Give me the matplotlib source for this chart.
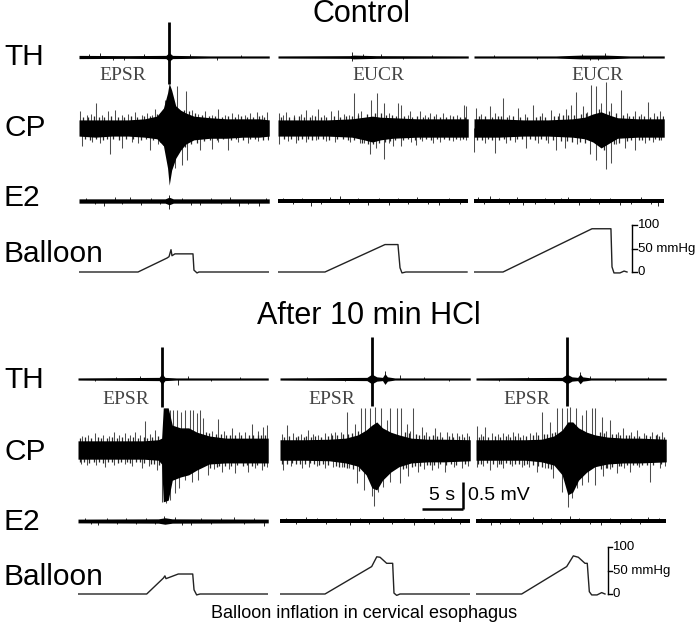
import matplotlib
matplotlib.use('Agg')
import matplotlib.pyplot as plt

# ---------------------------------------------------------------- data
# time in s, EMG amplitude in mV (envelope of dense trace + individual spikes),
# balloon pressure in mmHg
ROW_LABELS = ["TH", "CP", "E2", "Balloon"]
PANEL_TITLES = ["Control", "After 10 min HCl"]
CONTROL_REFLEX = ["EPSR", "EUCR", "EUCR"]
HCL_REFLEX = ["EPSR", "EPSR", "EPSR"]
PRESSURE_TICKS = [0, 50, 100]
PRESSURE_TICK_LABELS = ["0", "50 mmHg", "100"]
CAPTION = "Balloon inflation in cervical esophagus"
TIME_BAR_S = 5
VOLT_BAR_MV = 0.5

# ---- Control: TH
c_th_t = [[0, 6, 10.6, 11.0, 11.4, 16, 23.2], [0, 8.8, 9.2, 12, 23.2], [0, 10, 13, 16, 19, 23.2]]
c_th_up = [[0.03, 0.025, 0.03, 0.08, 0.03, 0.02, 0.02], [0.02, 0.025, 0.035, 0.025, 0.02], [0.02, 0.02, 0.035, 0.035, 0.02, 0.02]]
c_th_lo = [[0.03, 0.025, 0.03, 0.08, 0.03, 0.02, 0.02], [0.02, 0.025, 0.035, 0.025, 0.02], [0.02, 0.02, 0.035, 0.035, 0.02, 0.02]]
c_th_spk_t = [[10.98, 10.98, 1.2, 2.5, 4.1, 5.5, 7.9, 13.5, 16.8, 19.7],
              [9.0, 9.0, 10.4, 12.5, 15.3, 18.8],
              [16.0, 15.1, 13.2, 14.2, 2.4, 7.7, 20.6]]
c_th_spk_a = [[0.65, -0.50, 0.06, 0.07, -0.05, -0.06, 0.05, 0.06, -0.05, 0.04],
              [0.10, -0.07, 0.05, 0.05, -0.04, 0.04],
              [0.08, -0.06, 0.06, -0.05, 0.04, -0.04, 0.04]]

# ---- Control: CP (core envelope, large spikes, fringe spikes)
c_cp_t = [
    [0, 2, 4, 6, 8, 9.5, 10.3, 10.8, 11.0, 11.3, 11.8, 12.4, 13, 14, 16, 18, 20, 22, 23.2],
    [0, 3, 6, 9, 10.5, 11.5, 12.5, 14, 17, 20, 23.2],
    [0, 3, 6, 9, 12, 13.5, 14.5, 15.5, 16.5, 17.5, 20, 23.2],
]
c_cp_up = [
    [0.15, 0.15, 0.15, 0.15, 0.17, 0.22, 0.37, 0.65, 0.83, 0.70, 0.41, 0.33, 0.28, 0.22, 0.19, 0.17, 0.17, 0.17, 0.15],
    [0.15, 0.15, 0.15, 0.17, 0.20, 0.22, 0.20, 0.19, 0.17, 0.17, 0.17],
    [0.17, 0.17, 0.15, 0.15, 0.17, 0.20, 0.26, 0.30, 0.24, 0.19, 0.17, 0.17],
]
c_cp_lo = [
    [0.15, 0.17, 0.15, 0.15, 0.17, 0.20, 0.33, 0.74, 1.06, 0.78, 0.56, 0.41, 0.30, 0.22, 0.19, 0.19, 0.17, 0.17, 0.15],
    [0.15, 0.15, 0.15, 0.17, 0.22, 0.26, 0.22, 0.19, 0.17, 0.17, 0.17],
    [0.17, 0.17, 0.15, 0.15, 0.17, 0.20, 0.26, 0.37, 0.28, 0.19, 0.17, 0.17],
]
c_cp_spk_t = [
    [0.12, 2.03, 3.57, 4.39, 6.83, 9.27, 10.49, 11.99, 13.05, 13.74, 15.37, 16.99, 18.6, 21.67, 22.89,
     0.94, 1.46, 2.76, 5.2, 6.01, 7.64, 8.25, 8.94, 9.88, 14.55, 16.18, 17.8, 19.43, 20.24, 20.85, 22.28,
     0.33, 3.78, 5.2, 8.66, 10.28, 11.71, 12.52, 13.13, 14.76, 16.18, 18.2, 23.09,
     1.54, 2.56, 6.42, 7.24, 9.67, 16.99, 19.43, 20.65, 21.87],
    [0.12, 1.02, 3.45, 4.88, 6.5, 7.32, 9.23, 10.16, 11.3, 12.07, 12.93, 14.63, 15.04, 16.06, 17.28, 18.5, 20.12, 22.64, 22.89,
     0.6, 2.0, 2.8, 4.2, 5.6, 8.0, 8.6, 9.7, 13.5, 15.8, 17.9, 19.3, 21.0, 21.8,
     0.12, 2.23, 4.67, 8.74, 9.96, 11.18, 11.99, 12.93, 14.02, 15.04, 16.87, 18.9, 22.16,
     1.2, 3.4, 5.9, 7.0, 10.5, 13.5, 16.2, 17.6, 19.8, 21.3, 22.9],
    [0.28, 1.91, 3.54, 5.37, 7.2, 9.43, 11.26, 11.79, 12.48, 13.29, 14.31, 14.92, 15.53, 16.14, 16.75, 17.89, 19.6, 21.22, 22.64,
     0.9, 2.6, 4.3, 6.2, 8.3, 10.4, 13.8, 18.6, 20.4, 22.0,
     0.05, 2.52, 6.38, 10.04, 11.06, 14.11, 14.92, 16.14, 16.75, 18.38, 19.6, 22.85,
     1.3, 3.9, 5.0, 7.8, 9.0, 12.6, 15.5, 17.3, 20.8, 21.8],
]
c_cp_spk_a = [
    [0.31, 0.46, 0.31, 0.33, 0.30, 0.35, 0.52, 0.78, 0.68, 0.33, 0.31, 0.35, 0.28, 0.30, 0.30,
     0.24, 0.26, 0.25, 0.24, 0.26, 0.24, 0.27, 0.25, 0.28, 0.26, 0.25, 0.24, 0.26, 0.25, 0.27, 0.24,
     -0.34, -0.49, -0.37, -0.41, -0.31, -0.74, -0.68, -0.59, -0.40, -0.39, -0.40, -0.22,
     -0.26, -0.28, -0.25, -0.27, -0.29, -0.26, -0.25, -0.27, -0.24],
    [0.28, 0.30, 0.34, 0.35, 0.31, 0.34, 0.65, 0.31, 0.51, 0.65, 0.46, 0.46, 0.43, 0.31, 0.31, 0.28, 0.28, 0.43, 0.40,
     0.24, 0.25, 0.26, 0.24, 0.25, 0.26, 0.24, 0.27, 0.28, 0.25, 0.24, 0.26, 0.25, 0.24,
     -0.29, -0.28, -0.22, -0.25, -0.28, -0.48, -0.37, -0.57, -0.34, -0.33, -0.31, -0.28, -0.22,
     -0.24, -0.25, -0.24, -0.26, -0.27, -0.28, -0.25, -0.24, -0.25, -0.24, -0.23],
    [0.37, 0.41, 0.56, 0.37, 0.43, 0.34, 0.35, 0.43, 0.66, 0.40, 0.80, 0.78, 0.46, 0.85, 0.46, 0.71, 0.31, 0.48, 0.31,
     0.26, 0.27, 0.25, 0.26, 0.27, 0.28, 0.30, 0.28, 0.26, 0.27,
     -0.45, -0.46, -0.37, -0.41, -0.37, -0.49, -0.59, -0.76, -0.65, -0.37, -0.40, -0.22,
     -0.27, -0.28, -0.26, -0.27, -0.28, -0.30, -0.33, -0.29, -0.27, -0.26],
]
c_cp_fr_t = [
    [0.5, 1.1, 1.8, 2.4, 3.1, 3.9, 4.7, 5.5, 6.4, 7.1, 7.9, 8.6, 9.5, 12.8, 13.4, 14.2, 15.0, 15.8, 16.6,
     17.4, 18.2, 19.0, 19.8, 20.5, 21.2, 22.0, 22.6,
     0.7, 1.3, 2.1, 2.9, 3.4, 4.1, 4.9, 5.7, 6.6, 7.5, 8.2, 9.0, 9.9, 12.9, 13.6, 14.4, 15.2, 16.0, 16.8,
     17.6, 18.5, 19.2, 20.0, 20.9, 21.5, 22.4, 23.0],
    [0.4, 1.3, 1.9, 2.6, 3.2, 3.9, 4.5, 5.2, 5.9, 6.8, 7.6, 8.3, 9.0, 9.8, 10.8, 11.8, 12.5, 13.2, 13.9,
     14.4, 15.4, 16.4, 17.0, 17.7, 18.3, 19.0, 19.7, 20.5, 21.3, 22.2, 22.8,
     0.7, 1.6, 2.4, 2.9, 3.6, 4.2, 4.9, 5.5, 6.2, 7.2, 7.9, 8.5, 9.3, 10.2, 11.0, 11.6, 12.3, 13.0, 13.7,
     14.3, 15.3, 15.9, 16.7, 17.3, 18.1, 18.6, 19.4, 20.2, 20.8, 21.7, 22.5],
    [0.6, 1.4, 2.2, 2.9, 3.3, 4.0, 4.7, 5.6, 6.5, 7.5, 8.0, 8.7, 9.7, 10.2, 10.9, 11.5, 12.2, 13.0, 13.6,
     15.2, 16.5, 17.3, 18.2, 18.9, 19.4, 20.1, 20.7, 21.5, 22.3, 23.0,
     0.4, 1.0, 1.7, 2.2, 3.0, 3.6, 4.4, 5.3, 5.8, 6.8, 7.4, 8.2, 8.8, 9.6, 10.6, 11.4, 12.0, 12.9, 13.5,
     15.8, 17.1, 17.7, 18.7, 19.2, 20.1, 20.5, 21.4, 22.1, 22.6],
]
c_cp_fr_a = [
    [0.21, 0.20, 0.22, 0.21, 0.20, 0.22, 0.21, 0.20, 0.22, 0.21, 0.23, 0.22, 0.26, 0.34, 0.32, 0.27, 0.24, 0.22, 0.22,
     0.21, 0.22, 0.21, 0.22, 0.21, 0.20, 0.22, 0.21,
     -0.21, -0.22, -0.20, -0.22, -0.21, -0.20, -0.22, -0.21, -0.20, -0.22, -0.21, -0.23, -0.26, -0.36, -0.30, -0.27, -0.24, -0.23, -0.22,
     -0.21, -0.22, -0.21, -0.22, -0.21, -0.20, -0.22, -0.21],
    [0.20, 0.21, 0.20, 0.22, 0.21, 0.20, 0.22, 0.21, 0.20, 0.22, 0.21, 0.22, 0.23, 0.25, 0.26, 0.28, 0.27, 0.25, 0.24,
     0.23, 0.22, 0.21, 0.22, 0.21, 0.20, 0.22, 0.21, 0.20, 0.22, 0.21, 0.20,
     -0.20, -0.21, -0.22, -0.20, -0.21, -0.22, -0.20, -0.21, -0.22, -0.20, -0.21, -0.22, -0.23, -0.27, -0.29, -0.30, -0.28, -0.26, -0.24,
     -0.23, -0.22, -0.21, -0.22, -0.20, -0.21, -0.22, -0.20, -0.21, -0.22, -0.20, -0.21],
    [0.22, 0.23, 0.21, 0.22, 0.23, 0.21, 0.22, 0.21, 0.20, 0.21, 0.22, 0.21, 0.22, 0.23, 0.24, 0.24, 0.25, 0.26, 0.28,
     0.36, 0.32, 0.27, 0.25, 0.23, 0.22, 0.23, 0.22, 0.21, 0.22, 0.22,
     -0.22, -0.23, -0.21, -0.22, -0.23, -0.21, -0.22, -0.21, -0.20, -0.21, -0.22, -0.21, -0.22, -0.23, -0.24, -0.24, -0.25, -0.26, -0.28,
     -0.40, -0.30, -0.27, -0.24, -0.23, -0.22, -0.23, -0.22, -0.21, -0.22],
]

# ---- Control: E2
c_e2_t = [[0, 10.5, 11, 11.5, 23.2], [0, 23.2], [0, 23.2]]
c_e2_up = [[0.04, 0.04, 0.07, 0.04, 0.04], [0.035, 0.035], [0.04, 0.04]]
c_e2_lo = [[0.04, 0.04, 0.07, 0.04, 0.04], [0.035, 0.035], [0.04, 0.04]]
c_e2_spk_t = [[3.0, 6.2, 11.0, 11.0, 14.8, 19.5, 21.9, 0.8, 1.9, 4.4, 5.3, 7.6, 8.8, 9.9, 12.6, 13.7, 16.1, 17.3, 18.4, 20.6, 22.8],
              [4.0, 7.5, 11.0, 17.0, 19.6, 0.6, 1.8, 2.9, 5.2, 6.4, 8.7, 9.8, 12.3, 13.5, 14.6, 15.8, 18.3, 20.9, 22.2],
              [0.5, 2.0, 6.0, 11.5, 17.8, 22.5, 1.2, 3.1, 4.3, 5.2, 7.4, 8.6, 9.7, 10.6, 12.8, 14.1, 15.3, 16.6, 19.1, 20.4, 21.6]]
c_e2_spk_a = [[-0.09, 0.08, 0.12, -0.15, -0.08, -0.09, -0.10, 0.06, -0.06, 0.07, -0.06, -0.07, 0.06, -0.06, 0.06, -0.07, 0.06, -0.06, 0.07, -0.06, 0.06],
              [-0.09, 0.09, -0.07, 0.07, -0.08, 0.06, -0.06, 0.06, -0.06, 0.07, -0.06, 0.06, 0.06, -0.07, 0.06, -0.06, -0.06, 0.06, -0.06],
              [0.08, 0.09, -0.08, 0.07, -0.08, -0.09, -0.06, 0.06, -0.06, 0.07, -0.06, 0.06, -0.06, 0.06, -0.07, 0.06, -0.06, 0.06, -0.06, 0.07, -0.06]]

# ---- Control: balloon pressure
c_bal_t = [
    [0, 7.2, 10.73, 10.98, 11.22, 11.34, 11.7, 13.9, 14.02, 14.39, 14.63, 23.2],
    [0, 5.73, 13.05, 14.63, 14.88, 15.12, 15.6, 23.05],
    [0, 3.54, 14.39, 16.7, 16.83, 17.07, 17.8, 18.3, 18.66],
]
c_bal_p = [
    [0, 0, 30, 33, 48, 35, 39, 39, 4, -2, 0, 0],
    [0, 0, 59, 59, 9, -2, 0, 0],
    [0, 0, 93, 93, 11, -2, -2, 2, 0],
]

# ---- After HCl: TH
h_th_t = [[0, 9.9, 10.24, 10.6, 12, 23.2],
          [0, 10.6, 11.2, 11.8, 12.5, 12.8, 13.1, 14, 23.2],
          [0, 10.5, 11.1, 11.7, 12.4, 12.7, 13.0, 14, 23.2]]
h_th_up = [[0.02, 0.03, 0.10, 0.03, 0.02, 0.02],
           [0.02, 0.03, 0.09, 0.04, 0.03, 0.10, 0.04, 0.02, 0.02],
           [0.02, 0.03, 0.09, 0.04, 0.03, 0.09, 0.04, 0.02, 0.02]]
h_th_lo = [[0.02, 0.03, 0.10, 0.03, 0.02, 0.02],
           [0.02, 0.03, 0.09, 0.04, 0.03, 0.10, 0.04, 0.02, 0.02],
           [0.02, 0.03, 0.09, 0.04, 0.03, 0.09, 0.04, 0.02, 0.02]]
h_th_spk_t = [[10.24, 10.24, 12.2, 13.4, 7.5, 2.1, 4.6, 16.2, 19.8],
              [11.2, 11.2, 12.8, 14.6, 3.3, 7.9, 17.5, 20.6],
              [11.1, 11.1, 12.7, 13.9, 2.8, 6.4, 16.9, 21.0]]
h_th_spk_a = [[0.59, -0.52, -0.12, 0.06, 0.05, -0.04, 0.04, -0.04, 0.04],
              [0.78, -0.50, 0.15, 0.08, 0.04, -0.04, 0.04, -0.04],
              [0.78, -0.50, 0.13, 0.06, -0.04, 0.04, -0.04, 0.04]]

# ---- After HCl: CP
h_cp_t = [
    [0, 3, 6, 8, 9.8, 10.2, 10.4, 11.0, 11.5, 12.5, 13.5, 14.5, 16, 18, 20, 23.2],
    [0, 3, 6, 8, 9.5, 10.5, 11.2, 11.8, 12.5, 13.5, 14.5, 16, 18, 20, 23.2],
    [0, 3, 6, 8, 9.5, 10.5, 11.2, 11.8, 12.5, 13.5, 14.5, 16, 18, 20, 23.2],
]
h_cp_up = [
    [0.17, 0.17, 0.17, 0.17, 0.19, 0.22, 0.78, 0.78, 0.46, 0.41, 0.41, 0.33, 0.26, 0.22, 0.22, 0.22],
    [0.19, 0.19, 0.20, 0.22, 0.28, 0.37, 0.46, 0.52, 0.41, 0.33, 0.28, 0.22, 0.20, 0.20, 0.19],
    [0.19, 0.19, 0.19, 0.20, 0.26, 0.37, 0.52, 0.52, 0.41, 0.33, 0.28, 0.24, 0.22, 0.22, 0.20],
]
h_cp_lo = [
    [0.17, 0.17, 0.17, 0.17, 0.19, 0.26, 0.96, 0.93, 0.56, 0.50, 0.46, 0.37, 0.26, 0.24, 0.24, 0.24],
    [0.19, 0.19, 0.20, 0.24, 0.30, 0.46, 0.70, 0.74, 0.56, 0.41, 0.31, 0.24, 0.22, 0.22, 0.20],
    [0.19, 0.19, 0.19, 0.22, 0.28, 0.46, 0.83, 0.78, 0.56, 0.41, 0.31, 0.26, 0.24, 0.24, 0.22],
]
h_cp_spk_t = [
    [2.07, 4.43, 5.73, 6.95, 8.17, 9.39, 11.22, 11.63, 12.03, 12.56, 13.05, 13.66, 14.07, 14.47, 14.88, 15.28, 17.11, 18.74, 21.18, 22.6, 23.01,
     0.5, 1.2, 3.0, 3.8, 5.0, 6.3, 7.6, 8.8, 16.3, 17.8, 19.6, 20.4, 22.0,
     1.06, 3.29, 5.73, 7.77, 9.59, 10.28, 10.69, 11.22, 11.83, 12.32, 13.05, 13.86, 14.67, 15.9, 17.52, 19.15, 20.77, 22.4, 23.01,
     0.4, 2.2, 4.4, 6.6, 8.6, 16.6, 18.4, 21.6],
    [0.82, 3.45, 4.67, 6.71, 8.13, 9.15, 9.88, 10.37, 10.98, 11.59, 12.32, 13.01, 13.41, 14.23, 14.76, 15.45, 16.26, 17.28, 18.9, 20.33, 21.55, 22.76,
     0.3, 1.6, 2.5, 4.0, 5.5, 6.2, 7.4, 15.9, 17.8, 19.5, 21.0, 22.2,
     0.41, 2.64, 5.49, 7.52, 9.35, 10.28, 11.18, 11.5, 11.99, 12.6, 13.41, 14.63, 15.65, 16.87, 18.5, 20.12, 22.16,
     1.3, 3.5, 4.5, 6.5, 8.4, 17.6, 19.3, 21.2, 22.9],
    [0.08, 1.1, 3.33, 4.55, 5.77, 8.01, 9.02, 9.92, 10.45, 11.06, 11.46, 12.2, 12.89, 13.41, 14.11, 14.51, 15.33, 16.34, 17.97, 19.6, 21.42, 22.64,
     0.6, 2.0, 2.7, 3.9, 5.1, 6.6, 7.3, 15.8, 17.3, 18.9, 20.5, 22.1,
     0.08, 1.71, 3.33, 7.4, 9.43, 10.45, 11.26, 11.67, 12.28, 12.89, 13.7, 14.51, 15.53, 17.16, 18.78, 21.22, 22.44,
     0.9, 2.5, 4.4, 5.6, 6.5, 8.4, 16.3, 18.0, 19.9, 23.0],
]
h_cp_spk_a = [
    [0.31, 0.34, 0.31, 0.34, 0.54, 0.37, 0.75, 0.75, 0.75, 0.71, 0.75, 0.75, 0.75, 0.68, 0.74, 0.59, 0.57, 0.40, 0.49, 0.43, 0.46,
     0.26, 0.27, 0.28, 0.26, 0.27, 0.28, 0.27, 0.29, 0.36, 0.35, 0.33, 0.34, 0.35,
     -0.28, -0.31, -0.25, -0.34, -0.37, -0.96, -0.99, -0.93, -0.80, -0.71, -0.56, -0.59, -0.56, -0.46, -0.40, -0.43, -0.40, -0.37, -0.31,
     -0.26, -0.28, -0.27, -0.29, -0.30, -0.36, -0.35, -0.34],
    [0.46, 0.37, 0.28, 0.34, 0.71, 0.49, 0.77, 0.77, 0.77, 0.80, 0.77, 0.56, 0.77, 0.77, 0.77, 0.49, 0.77, 0.43, 0.40, 0.34, 0.31, 0.31,
     0.30, 0.31, 0.29, 0.30, 0.31, 0.32, 0.33, 0.36, 0.34, 0.33, 0.32, 0.30,
     -0.37, -0.34, -0.34, -0.31, -0.62, -0.74, -0.86, -1.04, -0.77, -0.68, -0.59, -0.62, -0.49, -0.40, -0.37, -0.40, -0.34,
     -0.30, -0.31, -0.30, -0.32, -0.34, -0.36, -0.33, -0.32, -0.30],
    [0.45, 0.43, 0.31, 0.34, 0.28, 0.71, 0.52, 0.77, 0.77, 0.77, 0.80, 0.77, 0.65, 0.74, 0.77, 0.77, 0.62, 0.56, 0.40, 0.37, 0.34, 0.34,
     0.30, 0.31, 0.29, 0.30, 0.31, 0.32, 0.33, 0.36, 0.34, 0.33, 0.32, 0.30,
     -0.31, -0.37, -0.34, -0.40, -0.52, -0.77, -1.05, -0.89, -0.71, -0.65, -0.59, -0.65, -0.49, -0.43, -0.40, -0.59, -0.34,
     -0.30, -0.31, -0.30, -0.32, -0.31, -0.34, -0.36, -0.33, -0.32, -0.30],
]
h_cp_fr_t = [
    [0.3, 0.9, 1.6, 2.4, 2.8, 3.5, 4.1, 4.8, 5.4, 6.1, 6.7, 7.3, 8.0, 8.4, 9.0, 9.7, 15.6, 16.0, 16.8, 17.4,
     18.1, 18.5, 19.1, 19.9, 20.8, 21.4, 21.9, 22.3, 22.8,
     0.2, 0.7, 1.4, 1.9, 2.6, 3.1, 3.7, 4.2, 4.9, 5.3, 6.0, 6.4, 7.1, 7.5, 8.1, 8.9, 9.3, 9.9, 16.1, 16.9,
     17.2, 17.9, 18.6, 19.4, 20.1, 20.6, 21.2, 21.8, 22.7],
    [0.5, 1.1, 1.9, 2.2, 2.9, 3.2, 3.8, 4.3, 5.0, 5.8, 6.4, 7.0, 7.7, 8.3, 8.8, 9.5, 15.2, 15.7, 16.6, 17.0,
     17.6, 18.2, 18.6, 19.2, 19.8, 20.6, 21.1, 21.8, 22.4, 23.0,
     0.2, 0.8, 1.5, 2.0, 2.4, 3.0, 3.7, 4.2, 4.8, 5.2, 5.9, 6.8, 7.2, 7.8, 8.2, 8.9, 9.6, 15.0, 15.4, 16.1,
     16.5, 17.1, 17.9, 18.3, 18.8, 19.5, 20.3, 20.8, 21.5, 22.5],
    [0.4, 0.8, 1.5, 2.3, 2.9, 3.6, 4.2, 4.8, 5.4, 6.1, 6.9, 7.6, 8.3, 8.7, 9.3, 9.6, 15.1, 15.6, 16.6, 17.1,
     17.6, 18.3, 18.7, 19.3, 19.9, 20.7, 21.2, 21.9, 22.3, 22.9,
     0.3, 0.6, 1.3, 2.1, 2.8, 3.0, 3.6, 4.1, 4.7, 5.3, 5.9, 6.2, 6.9, 7.6, 8.0, 8.8, 9.2, 15.2, 15.8, 16.0,
     16.6, 17.4, 17.7, 18.4, 19.2, 19.6, 20.2, 20.8, 21.6, 22.6],
]
h_cp_fr_a = [
    [0.23, 0.24, 0.22, 0.24, 0.23, 0.22, 0.24, 0.23, 0.24, 0.22, 0.24, 0.23, 0.24, 0.23, 0.25, 0.26, 0.33, 0.31, 0.30, 0.29,
     0.28, 0.27, 0.27, 0.28, 0.27, 0.28, 0.27, 0.28, 0.27,
     -0.23, -0.22, -0.24, -0.23, -0.22, -0.24, -0.23, -0.22, -0.24, -0.23, -0.22, -0.24, -0.23, -0.22, -0.24, -0.25, -0.25, -0.27, -0.33, -0.31,
     -0.30, -0.29, -0.29, -0.28, -0.29, -0.28, -0.29, -0.28, -0.29],
    [0.25, 0.26, 0.24, 0.26, 0.25, 0.26, 0.24, 0.26, 0.25, 0.26, 0.27, 0.28, 0.29, 0.30, 0.32, 0.35, 0.33, 0.31, 0.29, 0.28,
     0.27, 0.26, 0.27, 0.26, 0.25, 0.26, 0.25, 0.26, 0.25, 0.26,
     -0.25, -0.26, -0.24, -0.26, -0.25, -0.26, -0.24, -0.26, -0.27, -0.26, -0.27, -0.29, -0.31, -0.32, -0.33, -0.36, -0.38, -0.36, -0.34, -0.31,
     -0.30, -0.29, -0.28, -0.27, -0.27, -0.26, -0.27, -0.26, -0.27, -0.26],
    [0.25, 0.26, 0.24, 0.26, 0.25, 0.26, 0.24, 0.26, 0.25, 0.26, 0.27, 0.28, 0.29, 0.30, 0.32, 0.34, 0.33, 0.31, 0.30, 0.29,
     0.28, 0.27, 0.27, 0.26, 0.26, 0.27, 0.26, 0.27, 0.26, 0.25,
     -0.25, -0.26, -0.24, -0.26, -0.25, -0.26, -0.24, -0.26, -0.25, -0.26, -0.27, -0.26, -0.28, -0.30, -0.31, -0.34, -0.36, -0.36, -0.34, -0.33,
     -0.31, -0.29, -0.29, -0.28, -0.27, -0.28, -0.27, -0.28, -0.27, -0.26],
]

# ---- After HCl: E2
h_e2_t = [[0, 9.8, 10.6, 11.5, 23.2], [0, 23.2], [0, 23.2]]
h_e2_up = [[0.035, 0.04, 0.06, 0.04, 0.035], [0.035, 0.035], [0.035, 0.035]]
h_e2_lo = [[0.035, 0.04, 0.06, 0.04, 0.035], [0.035, 0.035], [0.035, 0.035]]
h_e2_spk_t = [[2.4, 10.5, 13.8, 19.0, 22.7, 0.9, 1.6, 3.5, 4.7, 5.9, 7.1, 8.3, 9.4, 11.8, 12.7, 15.0, 16.2, 17.4, 20.3, 21.5],
              [3.2, 8.5, 12.5, 16.4, 20.8, 0.7, 1.9, 4.5, 5.6, 6.8, 9.7, 10.9, 13.7, 15.1, 17.6, 18.8, 19.7, 22.0],
              [1.8, 6.9, 11.5, 15.2, 21.0, 0.6, 2.9, 4.1, 5.3, 8.0, 9.2, 10.3, 12.6, 13.9, 16.4, 17.6, 18.9, 20.0, 22.3]]
h_e2_spk_a = [[-0.08, 0.10, -0.08, 0.07, -0.10, 0.06, -0.06, 0.06, -0.06, 0.06, -0.06, 0.06, -0.06, 0.07, -0.07, 0.06, -0.06, 0.06, -0.06, 0.06],
              [0.08, -0.07, 0.08, -0.08, 0.07, 0.06, -0.06, 0.06, -0.06, 0.06, 0.06, -0.06, -0.06, 0.06, 0.06, -0.06, 0.06, -0.06],
              [-0.07, 0.08, 0.09, -0.08, 0.08, 0.06, -0.06, 0.06, -0.06, -0.06, 0.06, -0.06, 0.06, -0.06, 0.06, -0.06, 0.06, -0.06, 0.06]]

# ---- After HCl: balloon pressure
h_bal_t = [
    [0, 8.38, 10.4, 10.6, 10.73, 12.23, 13.99, 14.15, 14.47, 14.88, 23.17],
    [0, 5.49, 11.18, 11.8, 12.2, 13.01, 13.74, 13.9, 14.23, 14.63, 23.17],
    [0, 5.57, 11.06, 11.87, 12.48, 13.29, 13.57, 13.82, 14.11, 14.76, 15.33, 15.73],
]
h_bal_p = [
    [0, 0, 34, 39, 33, 43, 43, 9, -2, 0, 0],
    [0, 0, 59, 80, 79, 66, 66, 2, -3, 0, 0],
    [0, 0, 59, 82, 79, 66, 66, 5, -2, -2, 3, 0],
]

# ---------------------------------------------------------------- layout
W, H = 697, 627
PX_PER_S = 8.2
PX_PER_MV = 54.0
PX_PER_MMHG = 0.465
SPAN_S = 23.2

plt.rcParams['font.family'] = ['Liberation Sans', 'DejaVu Sans']
fig = plt.figure(figsize=(W / 100, H / 100), dpi=100)
fig.patch.set_facecolor('white')

COL_X0 = [[79, 278, 474], [78, 280, 476]]
BASE_Y = [[57, 128, 201, 272], [379, 450, 521, 594]]
HALF_PX = [50, 70, 20, 60]
LABEL_Y = [[57, 128, 198, 254], [380, 452, 522, 577]]
TITLE_Y = [14, 316]
TITLE_X = [362, 369]
REFLEX_POS = [[(123, 75), (378, 75), (597, 75)], [(126, 399), (332, 399), (527, 399)]]
PBAR_T = [19.3, 16.05]


def px_ax(x0, base, half_px, per_unit):
    ax = fig.add_axes([x0 / W, 1 - (base + half_px) / H, SPAN_S * PX_PER_S / W, 2 * half_px / H])
    ax.set_xlim(0, SPAN_S)
    ax.set_ylim(-half_px / per_unit, half_px / per_unit)
    ax.axis('off')
    ax.patch.set_alpha(0)
    return ax


def ftext(x, y, s, **kw):
    fig.text(x / W, 1 - y / H, s, **kw)


def emg(ax, t, up, lo, st, sa, spk_lw=0.7, big_lw=None, spk_color='0.3'):
    ax.fill_between(t, [-v for v in lo], up, color='black', lw=0, zorder=3)
    for ti, ai in zip(st, sa):
        if big_lw is not None and abs(ai) > 0.3:
            ax.vlines([ti], 0, [ai], color='black', lw=big_lw, zorder=4)
        else:
            ax.vlines([ti], 0, [ai], color=spk_color, lw=spk_lw, zorder=2)


panels = [
    (c_th_t, c_th_up, c_th_lo, c_th_spk_t, c_th_spk_a,
     c_cp_t, c_cp_up, c_cp_lo, c_cp_spk_t, c_cp_spk_a, c_cp_fr_t, c_cp_fr_a,
     c_e2_t, c_e2_up, c_e2_lo, c_e2_spk_t, c_e2_spk_a,
     c_bal_t, c_bal_p, CONTROL_REFLEX),
    (h_th_t, h_th_up, h_th_lo, h_th_spk_t, h_th_spk_a,
     h_cp_t, h_cp_up, h_cp_lo, h_cp_spk_t, h_cp_spk_a, h_cp_fr_t, h_cp_fr_a,
     h_e2_t, h_e2_up, h_e2_lo, h_e2_spk_t, h_e2_spk_a,
     h_bal_t, h_bal_p, HCL_REFLEX),
]

for p, data in enumerate(panels):
    (th_t, th_up, th_lo, th_st, th_sa, cp_t, cp_up, cp_lo, cp_st, cp_sa, cp_ft, cp_fa,
     e2_t, e2_up, e2_lo, e2_st, e2_sa, bal_t, bal_p, reflex) = data
    ftext(TITLE_X[p], TITLE_Y[p], PANEL_TITLES[p], fontsize=22, ha='center', va='center')
    for r, lab in enumerate(ROW_LABELS):
        ftext(4, LABEL_Y[p][r], lab, fontsize=21.5, ha='left', va='center')
    for c in range(3):
        x0 = COL_X0[p][c]
        ax_th = px_ax(x0, BASE_Y[p][0], HALF_PX[0], PX_PER_MV)
        emg(ax_th, th_t[c], th_up[c], th_lo[c], th_st[c], th_sa[c], spk_lw=0.7, big_lw=2.0,
            spk_color='0.15')
        ax_cp = px_ax(x0, BASE_Y[p][1], HALF_PX[1], PX_PER_MV)
        emg(ax_cp, cp_t[c], cp_up[c], cp_lo[c], cp_st[c], cp_sa[c], spk_lw=0.75)
        ax_cp.vlines(cp_ft[c], 0, cp_fa[c], color='0.15', lw=0.9, zorder=2)
        ax_e2 = px_ax(x0, BASE_Y[p][2], HALF_PX[2], PX_PER_MV)
        emg(ax_e2, e2_t[c], e2_up[c], e2_lo[c], e2_st[c], e2_sa[c], spk_lw=0.7, spk_color='0.15')
        ax_b = px_ax(x0, BASE_Y[p][3], HALF_PX[3], PX_PER_MMHG)
        ax_b.plot(bal_t[c], bal_p[c], color='#222222', lw=1.0)
        rx, ry = REFLEX_POS[p][c]
        ftext(rx, ry, reflex[c], family=['Liberation Serif', 'DejaVu Serif'],
              fontsize=14, color='#444444', ha='center', va='center')
        if c == 2:
            tb = PBAR_T[p]
            ax_b.plot([tb, tb], [PRESSURE_TICKS[0], PRESSURE_TICKS[-1]], color='black', lw=1.0,
                      clip_on=False)
            for v, lab in zip(PRESSURE_TICKS, PRESSURE_TICK_LABELS):
                ax_b.plot([tb, tb + 0.55], [v, v], color='black', lw=1.0, clip_on=False)
                ax_b.text(tb + 0.65, v, lab, fontsize=9.5, ha='left', va='center', clip_on=False)
        if p == 1 and c == 1:
            # time / voltage calibration bar
            tx0 = 17.3
            vy0 = -1.10
            ax_cp.plot([tx0, tx0 + TIME_BAR_S], [vy0, vy0], color='black', lw=1.8,
                       solid_capstyle='butt', clip_on=False)
            ax_cp.plot([tx0 + TIME_BAR_S, tx0 + TIME_BAR_S], [vy0, vy0 + VOLT_BAR_MV],
                       color='black', lw=1.8, solid_capstyle='butt', clip_on=False)
            ax_cp.text(tx0 + TIME_BAR_S / 2, vy0 + 0.1, f"{TIME_BAR_S} s", fontsize=14,
                       ha='center', va='bottom', clip_on=False)
            ax_cp.text(tx0 + TIME_BAR_S + 0.6, vy0 + VOLT_BAR_MV / 2, f"{VOLT_BAR_MV} mV",
                       fontsize=14, ha='left', va='center', clip_on=False)

ftext(364, 613, CAPTION, fontsize=13, ha='center', va='center')

fig.savefig('out.png', dpi=100, facecolor='white')
